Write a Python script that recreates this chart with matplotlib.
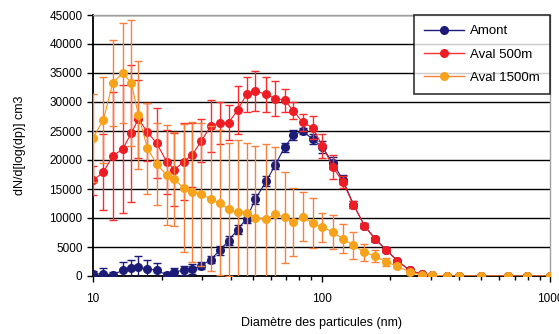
import matplotlib
matplotlib.use("Agg")
import matplotlib.pyplot as plt
from matplotlib.lines import Line2D
from matplotlib.ticker import FixedLocator, NullFormatter, FuncFormatter, LogLocator

plt.rcParams['font.family'] = ['Liberation Sans', 'DejaVu Sans']

diam = [10.0, 11.1, 12.2, 13.5, 14.7, 15.8, 17.3, 19.0, 21.0, 22.7, 24.9, 27.2, 29.8,
        32.7, 35.8, 39.2, 42.9, 47.0, 51.4, 57.4, 62.9, 68.9, 75.4, 82.6, 91.4, 101,
        112, 124, 138, 154, 172, 192, 215, 243, 274, 306, 353, 398, 501, 652, 797, 995]

amont = [300, 400, 200, 1000, 1300, 1500, 1200, 1000, 200, 700, 1000, 1200, 1800,
         2800, 4400, 6100, 8000, 9900, 13300, 16400, 19200, 22200, 24300, 25000, 23600, 22200,
         19500, 16600, 12300, 8700, 6300, 4500, 2600, 1000, 300, 100, 50, 0, 0, 0, 0, 0]
amont_err = [500, 1000, 500, 1500, 1500, 2000, 1500, 1200, 500, 700, 800, 800, 600,
             600, 700, 800, 800, 800, 800, 800, 800, 800, 800, 600, 800, 1000,
             1000, 800, 600, 500, 400, 300, 200, 100, 100, 50, 0, 0, 0, 0, 0, 0]

aval500 = [16500, 17900, 20700, 21900, 24600, 27100, 24800, 22900, 19700, 18300, 19700, 20900, 23300,
           25800, 26400, 26400, 28600, 31300, 31900, 31300, 30600, 30300, 28500, 26500, 25600, 22400,
           18800, 16200, 12300, 8700, 6400, 4500, 2600, 1000, 300, 100, 50, 0, 0, 0, 0, 0]
aval500_err = [2500, 6500, 11000, 11000, 11800, 6700, 5000, 6000, 5500, 6300, 6600, 5500, 3700,
               4500, 3600, 3000, 4200, 3000, 3500, 3000, 3000, 2000, 1500, 1500, 2000, 2000,
               2000, 1000, 600, 500, 400, 300, 200, 100, 0, 0, 0, 0, 0, 0, 0, 0]

aval1500 = [23800, 26900, 33300, 35000, 33300, 27800, 22000, 19300, 17400, 16700, 15200, 14500, 14100,
            13300, 12600, 11500, 11000, 10900, 10000, 9800, 10700, 10100, 9300, 10200, 9100, 8400,
            7600, 6400, 5300, 4100, 3400, 2400, 1700, 700, 200, 100, 0, 0, 0, 0, 0, 0]
aval1500_err = [7600, 7400, 7400, 8700, 10800, 9300, 7800, 7000, 8600, 8100, 11000, 12000, 12300,
                12500, 12500, 11500, 12500, 12000, 12500, 13000, 11500, 7800, 5900, 4200, 4300, 2500,
                3000, 2500, 2300, 1500, 1000, 700, 400, 300, 200, 100, 0, 0, 0, 0, 0, 0]

labels = ["Amont", "Aval 500m", "Aval 1500m"]
yticks = [0, 5000, 10000, 15000, 20000, 25000, 30000, 35000, 40000, 45000]

fig = plt.figure(figsize=(5.59, 3.34), dpi=100)
ax = fig.add_axes([93/559, 1-276/334, (550-93)/559, (276-15)/334])

series = [
    (amont, amont_err, '#1c1c78', '#1c1c78', '#1c1c78', 3),
    (aval500, aval500_err, '#ee1c24', '#ee1c24', '#ff2a2a', 4),
    (aval1500, aval1500_err, '#f7a21b', '#f7941d', '#f7813a', 5),
]
for vals, errs, mcol, lcol, ecol, z in series:
    ax.errorbar(diam, vals, yerr=errs, fmt='none', ecolor=ecol, elinewidth=1.0,
                capsize=3, capthick=1.0, zorder=z)
    ax.plot(diam, vals, '-', color=lcol, lw=0.8, marker='o', ms=5.5,
            mfc=mcol, mec=mcol, zorder=z + 0.5)

ax.set_xscale('log')
ax.set_xlim(10, 1000)
ax.set_ylim(0, 45000)
ax.set_yticks(yticks)
ax.yaxis.set_major_formatter(FuncFormatter(lambda v, p: f"{int(v)}"))
ax.xaxis.set_major_locator(FixedLocator([10, 100, 1000]))
ax.xaxis.set_major_formatter(FuncFormatter(lambda v, p: f"{int(v)}"))
ax.xaxis.set_minor_locator(LogLocator(base=10, subs=range(2, 10)))
ax.xaxis.set_minor_formatter(NullFormatter())

ax.grid(axis='y', color='black', lw=1.0, zorder=1)
ax.set_axisbelow(True)
for s in ['left', 'bottom']:
    ax.spines[s].set_color('black')
    ax.spines[s].set_linewidth(1.3)
for s in ['top', 'right']:
    ax.spines[s].set_color('#a0a0a0')
    ax.spines[s].set_linewidth(1.0)

ax.tick_params(axis='both', which='major', labelsize=8.5, direction='out', length=4, width=1, color='black')
ax.tick_params(axis='x', which='minor', direction='out', length=3, width=1, color='black')
ax.tick_params(axis='x', which='major', pad=8)

ax.set_xlabel("Diamètre des particules (nm)", fontsize=9, labelpad=9)
ax.set_ylabel("dN/d[log(dp)] cm3", fontsize=9, labelpad=17)

handles = [Line2D([], [], color=c, lw=1, marker='o', ms=5.5, mfc=m, mec=m)
           for c, m in [('#1c1c78', '#1c1c78'), ('#ff3030', '#ee1c24'), ('#f7813a', '#f7a21b')]]
leg = ax.legend(handles, labels, loc='upper right', bbox_to_anchor=(1.0, 1.0),
                fontsize=9.5, frameon=True, fancybox=False, borderaxespad=0,
                handlelength=3.0, labelspacing=0.85, borderpad=0.75, handletextpad=0.5)
leg.get_frame().set_edgecolor('black')
leg.get_frame().set_linewidth(1.2)
leg.set_zorder(10)

fig.savefig("out.png", dpi=100)
